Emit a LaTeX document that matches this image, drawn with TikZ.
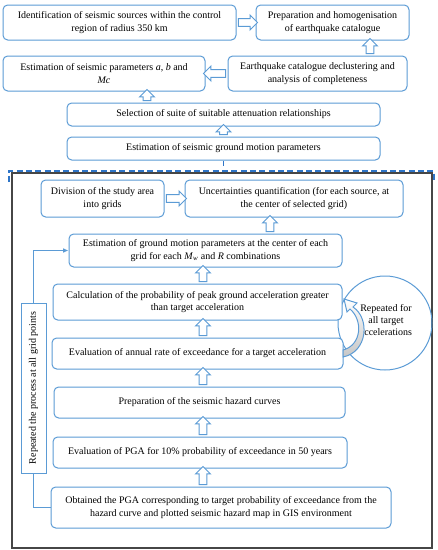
\documentclass[tikz,border=0pt]{standalone}
\usepackage{fontspec}
\setmainfont{Liberation Serif}
\usetikzlibrary{calc,shapes.arrows,arrows.meta}

\definecolor{boxblue}{RGB}{91,155,213}
\definecolor{dashblue}{RGB}{46,117,200}
\definecolor{framegray}{RGB}{70,70,70}
\newcommand{\boxfont}{\fontsize{7.5}{9.3}\selectfont}

\tikzset{every picture/.style={line width=0.75pt}}
\tikzset{
  box/.style={draw=boxblue, rounded corners=3.5pt, fill=white, align=center, inner sep=0pt, font=\boxfont},
  dim/.style 2 args={minimum width=#1*0.75pt, minimum height=#2*0.75pt},
  hollow arrow/.style={single arrow, draw=boxblue, fill=white, inner xsep=0pt, inner ysep=2.6pt, minimum width=0pt, single arrow head extend=2.6pt, line width=0.75pt},
}

% hollow block arrow between two points
\newcommand{\blockarrow}[3]{%
  \path let \p1=(#2), \p2=(#3), \n1={veclen(\x2-\x1,\y2-\y1)}, \n2={atan2(\y2-\y1,\x2-\x1)} in
    node[hollow arrow, minimum height=\n1, rotate=\n2] (#1) at ($(#2)!0.5!(#3)$) {};}

\begin{document}
\begin{tikzpicture}[x=0.75pt,y=0.75pt,yscale=-1,xscale=1]
\useasboundingbox (0,0) rectangle (438,550);

%Shape: Frame
\draw [color=framegray, line width=1pt] (12,173) rectangle (432,548);
%Straight Lines: dashed top
\draw [color=dashblue, line width=0.9pt, dash pattern={on 4.5pt off 2.5pt}] (9,182) -- (9,171) -- (434,171) -- (434,182);

%Shape: Circle
\draw [color=boxblue] (385,323) circle [radius=47];

% Boxes, upper part
\node [box, dim={233}{35}] (ident) at (119.5,22.5) {Identification of seismic sources within the control\\region of radius 350 km};
\node [box, dim={153}{35}] (prep) at (332.5,22.5) {Preparation and homogenisation\\of earthquake catalogue};
\node [box, dim={202}{35}] (param) at (104,73.5) {Estimation of seismic parameters \textit{a}, \textit{b} and\\\textit{Mc}};
\node [box, dim={179}{35}] (declus) at (317.5,73.5) {Earthquake catalogue declustering and\\analysis of completeness};
\node [box, dim={313}{23}] (atten) at (223.5,114.5) {Selection of suite of suitable attenuation relationships};
\node [box, dim={313}{23}] (gmp) at (223.5,148.5) {Estimation of seismic ground motion parameters};

% Boxes, inside frame
\node [box, dim={123}{37}] (grids) at (102.5,198.5) {Division of the study area\\into grids};
\node [box, dim={218}{37}] (uncert) at (294,198.5) {Uncertainties quantification (for each source, at\\the center of selected grid)};
\node [box, dim={273}{33}] (center) at (205.5,250.5) {Estimation of ground motion parameters at the center of each\\grid for each \textit{M}\textsubscript{\textit{w}} and \textit{R} combinations};
\node [box, dim={289}{36}] (prob) at (197.5,302) {Calculation of the probability of peak ground acceleration greater\\than target acceleration};
\node [box, dim={291}{31}] (rate) at (197.5,353.5) {Evaluation of annual rate of exceedance for a target acceleration};
\node [box, dim={291}{31}] (curves) at (199.5,402.5) {Preparation of the seismic hazard curves};
\node [box, dim={294}{31}] (pga) at (200,452.5) {Evaluation of PGA for 10\% probability of exceedance in 50 years};
\node [box, dim={340}{41}] (map) at (221,507.5) {Obtained the PGA corresponding to target probability of exceedance from the\\hazard curve and plotted seismic hazard map in GIS environment};

% Text Node: side loop
\node [draw=boxblue, fill=white, font=\boxfont, inner sep=0pt, dim={170}{25}, rotate=90] (repgrid) at (33.5,388) {Repeated the process at all grid points};
% Text Node: circle
\node [font=\boxfont, align=center] (reptarget) at (386,320) {Repeated for\\all target\\accelerations};

% Block arrows
\blockarrow{a1}{ident.east}{prep.west}
\blockarrow{a2}{$(prep.south)+(37.5,0)$}{$(declus.north)+(52.5,0)$}
\blockarrow{a3}{declus.west}{param.east}
\blockarrow{a4}{$(param.south)+(43,0)$}{$(atten.north)+(-76.5,0)$}
\blockarrow{a5}{atten.south}{gmp.north}
\blockarrow{a6}{grids.east}{uncert.west}
\blockarrow{a7}{$(uncert.south)+(-24,0)$}{$(center.north)+(64.5,0)$}
\blockarrow{a8}{$(center.south)+(-2.5,0)$}{$(prob.north)+(5.5,0)$}
\blockarrow{a9}{$(prob.south)+(5.5,0)$}{$(rate.north)+(5.5,0)$}
\blockarrow{a10}{$(rate.south)+(5.5,0)$}{$(curves.north)+(3.5,0)$}
\blockarrow{a11}{$(curves.south)+(3.5,0)$}{$(pga.north)+(3,0)$}
\blockarrow{a12}{$(pga.south)+(3,0)$}{$(map.north)+(-18,0)$}

% tick below ground motion box
\draw [color=dashblue] (gmp.south) -- ++(0,5);

%Curve Lines: loop arrow
\draw [color=boxblue, top color=white, bottom color=gray!45] (343,357) .. controls (368,352) and (370,318) .. (353,307) -- (357,303) -- (344,299) -- (347,312) -- (350,309) .. controls (363,320) and (362,345) .. (343,350) -- cycle;

%Straight Lines: side loop
\draw [color=boxblue] (map.west) -| (repgrid.west);
\draw [color=boxblue, -{Latex[length=4pt,width=3.5pt]}] (repgrid.east) |- (center.west);

\end{tikzpicture}
\end{document}
